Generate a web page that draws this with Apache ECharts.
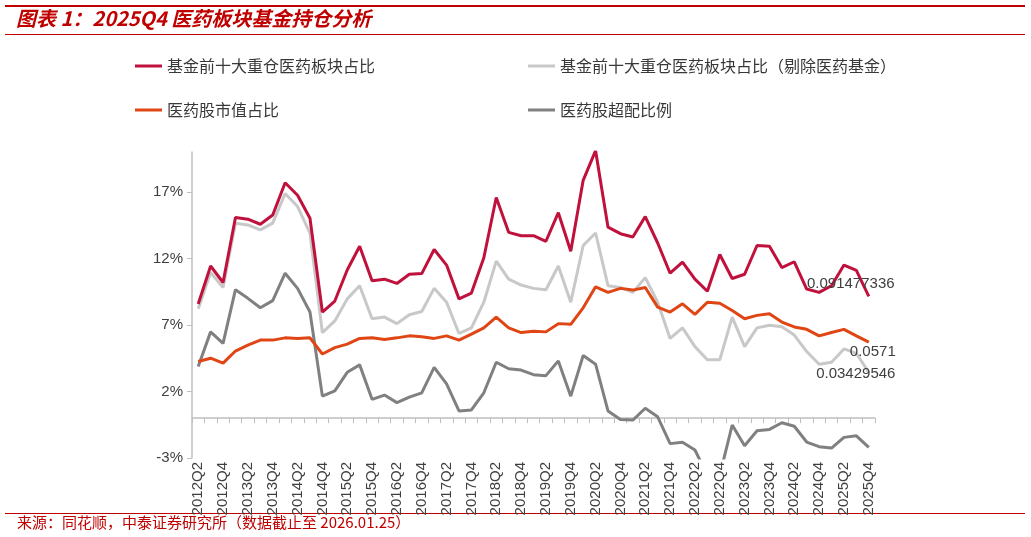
<!DOCTYPE html>
<html>
<head>
<meta charset="utf-8">
<script src="https://cdn.jsdelivr.net/npm/echarts@6/dist/echarts.min.js"></script>
<style>
  html, body { margin: 0; padding: 0; background: #fff; }
  #chart { width: 1031px; height: 537px; }
</style>
</head>
<body>
<div id="chart"></div>
<script>
// quarters on the x axis
var quarters = [
    '2012Q2', '2012Q3', '2012Q4', '2013Q1', '2013Q2', '2013Q3', '2013Q4',
    '2014Q1', '2014Q2', '2014Q3', '2014Q4', '2015Q1', '2015Q2', '2015Q3', '2015Q4',
    '2016Q1', '2016Q2', '2016Q3', '2016Q4', '2017Q1', '2017Q2', '2017Q3', '2017Q4',
    '2018Q1', '2018Q2', '2018Q3', '2018Q4', '2019Q1', '2019Q2', '2019Q3', '2019Q4',
    '2020Q1', '2020Q2', '2020Q3', '2020Q4', '2021Q1', '2021Q2', '2021Q3', '2021Q4',
    '2022Q1', '2022Q2', '2022Q3', '2022Q4', '2023Q1', '2023Q2', '2023Q3', '2023Q4',
    '2024Q1', '2024Q2', '2024Q3', '2024Q4', '2025Q1', '2025Q2', '2025Q3', '2025Q4'
];

// 基金前十大重仓医药板块占比
var top10Share = [
    0.0858, 0.1143, 0.1019, 0.1507, 0.1495, 0.1457, 0.1527,
    0.1769, 0.1675, 0.1502, 0.0797, 0.0880, 0.1113, 0.1292, 0.1032,
    0.1044, 0.1012, 0.1081, 0.1086, 0.1267, 0.1150, 0.0896, 0.0940,
    0.1205, 0.1658, 0.1396, 0.1371, 0.1371, 0.1329, 0.1544, 0.1254,
    0.1787, 0.2010, 0.1435, 0.1386, 0.1361, 0.1515, 0.1316, 0.1089,
    0.1173, 0.1044, 0.0953, 0.1230, 0.1049, 0.1081, 0.1297, 0.1292,
    0.1131, 0.1175, 0.0970, 0.0945, 0.0995, 0.1150, 0.1110, 0.091477336
];

// 基金前十大重仓医药板块占比（剔除医药基金）
var top10ShareExMed = [
    0.0821, 0.1094, 0.0982, 0.1465, 0.1452, 0.1415, 0.1465,
    0.1688, 0.1590, 0.1390, 0.0642, 0.0730, 0.0896, 0.0995, 0.0747,
    0.0759, 0.0710, 0.0777, 0.0801, 0.0975, 0.0871, 0.0636, 0.0678,
    0.0871, 0.1180, 0.1044, 0.1000, 0.0975, 0.0965, 0.1143, 0.0871,
    0.1297, 0.1391, 0.0995, 0.0982, 0.0945, 0.1056, 0.0871, 0.0599,
    0.0678, 0.0537, 0.0438, 0.0438, 0.0759, 0.0537, 0.0678, 0.0698,
    0.0686, 0.0624, 0.0500, 0.0405, 0.0420, 0.0520, 0.0487, 0.03429546
];

// 医药股市值占比
var mktCapShare = [
    0.0425, 0.0450, 0.0413, 0.0504, 0.0549, 0.0586, 0.0586,
    0.0603, 0.0598, 0.0603, 0.0482, 0.0530, 0.0556, 0.0599, 0.0603,
    0.0591, 0.0603, 0.0618, 0.0611, 0.0599, 0.0618, 0.0586, 0.0631,
    0.0678, 0.0759, 0.0678, 0.0643, 0.0653, 0.0648, 0.0710, 0.0705,
    0.0829, 0.0987, 0.0945, 0.0975, 0.0962, 0.0982, 0.0834, 0.0797,
    0.0859, 0.0780, 0.0871, 0.0863, 0.0809, 0.0747, 0.0772, 0.0784,
    0.0722, 0.0685, 0.0667, 0.0618, 0.0643, 0.0667, 0.0618, 0.0571
];

// 医药股超配比例
var overweight = [
    0.0388, 0.0648, 0.0561, 0.0965, 0.0900, 0.0829, 0.0883,
    0.1089, 0.0975, 0.0797, 0.0165, 0.0205, 0.0344, 0.0400, 0.0141,
    0.0173, 0.0116, 0.0158, 0.0190, 0.0381, 0.0257, 0.0054, 0.0061,
    0.0190, 0.0420, 0.0371, 0.0361, 0.0326, 0.0319, 0.0430, 0.0165,
    0.0470, 0.0405, 0.0054, -0.0010, -0.0015, 0.0074, 0.0010, -0.0192,
    -0.0181, -0.0240, -0.0430, -0.0430, -0.0052, -0.0208, -0.0095, -0.0085,
    -0.0035, -0.0061, -0.0180, -0.0215, -0.0225, -0.0145, -0.0133, -0.0220
];

var yTicks = { min: -0.03, max: 0.20, step: 0.05 };

var RED = '#C0103C';
var LIGHT = '#C8C8C8';
var ORANGE = '#DF4614';
var DARK = '#808080';
var TXT = '#404040';
var BRAND = '#C00000';
var FONT = '"Liberation Sans", Arial, "Noto Sans CJK SC", sans-serif';

// put a value label on the last point only
function withEndLabel(values, offset) {
    return values.map(function (v, i) {
        if (i !== values.length - 1) return v;
        return {
            value: v,
            label: {
                show: true,
                position: 'inside',
                offset: offset,
                color: TXT,
                fontSize: 15,
                fontFamily: FONT
            }
        };
    });
}

function lineSeries(name, color, data, z) {
    return {
        name: name,
        type: 'line',
        data: data,
        z: z,
        symbol: 'circle',
        symbolSize: 0,
        showSymbol: true,
        showAllSymbol: true,
        clip: true,
        silent: true,
        lineStyle: { color: color, width: 3 },
        itemStyle: { color: color }
    };
}

function legendAt(left, top, name) {
    return {
        left: left,
        top: top,
        padding: 0,
        icon: 'rect',
        itemWidth: 27,
        itemHeight: 3,
        itemGap: 0,
        selectedMode: false,
        textStyle: { color: '#383838', fontSize: 16, fontFamily: '"Noto Sans CJK SC", sans-serif' },
        data: [name]
    };
}

var chartDom = document.getElementById('chart');
var myChart = echarts.init(chartDom, null, { renderer: 'canvas' });

var option = {
    animation: false,
    backgroundColor: '#fff',
    title: {
        text: '图表 1：2025Q4 医药板块基金持仓分析',
        left: 16,
        top: 8,
        padding: 0,
        textStyle: {
            color: BRAND,
            fontSize: 20,
            fontStyle: 'italic',
            fontWeight: 'bold',
            fontFamily: '"Noto Sans CJK SC", sans-serif'
        }
    },
    graphic: [
        { type: 'rect', shape: { x: 5, y: 5, width: 1020, height: 2 }, style: { fill: BRAND } },
        { type: 'rect', shape: { x: 5, y: 34, width: 1020, height: 1 }, style: { fill: BRAND } },
        { type: 'rect', shape: { x: 5, y: 513, width: 1020, height: 1 }, style: { fill: BRAND } },
        {
            type: 'text', left: 17, top: 515,
            style: {
                text: '来源：同花顺，中泰证券研究所（数据截止至 2026.01.25）',
                fill: BRAND,
                fontSize: 15,
                fontFamily: '"Noto Sans CJK SC", sans-serif'
            }
        }
    ],
    legend: [
        legendAt(135, 58, '基金前十大重仓医药板块占比'),
        legendAt(528, 58, '基金前十大重仓医药板块占比（剔除医药基金）'),
        legendAt(135, 102, '医药股市值占比'),
        legendAt(528, 102, '医药股超配比例')
    ],
    grid: {
        left: 192,
        right: 156,
        top: 152,
        bottom: 79,
        containLabel: false,
        outerBoundsMode: 'none'
    },
    xAxis: {
        type: 'category',
        data: quarters,
        boundaryGap: true,
        axisLine: { onZero: true, lineStyle: { color: '#BFBFBF', width: 1.5 } },
        axisTick: { show: true, interval: 0, length: 5, lineStyle: { color: '#BFBFBF' } },
        axisLabel: {
            interval: 1,
            rotate: 90,
            margin: 4,
            color: TXT,
            fontSize: 15,
            fontFamily: FONT
        },
        splitLine: { show: false }
    },
    yAxis: {
        type: 'value',
        min: yTicks.min,
        max: yTicks.max,
        interval: yTicks.step,
        axisLine: { show: true, lineStyle: { color: '#BFBFBF', width: 1.5 } },
        axisTick: { show: true, length: 5, lineStyle: { color: '#BFBFBF' } },
        axisLabel: {
            showMaxLabel: false,
            margin: 9,
            color: TXT,
            fontSize: 15,
            fontFamily: FONT,
            formatter: function (v) { return Math.round(v * 100) + '%'; }
        },
        splitLine: { show: false }
    },
    series: [
        lineSeries('基金前十大重仓医药板块占比（剔除医药基金）', LIGHT, withEndLabel(top10ShareExMed, [-13, 1]), 2),
        lineSeries('医药股超配比例', DARK, overweight, 3),
        lineSeries('医药股市值占比', ORANGE, withEndLabel(mktCapShare, [4, 10]), 4),
        lineSeries('基金前十大重仓医药板块占比', RED, withEndLabel(top10Share, [-18, -13]), 5)
    ]
};

option && myChart.setOption(option);
</script>
</body>
</html>
